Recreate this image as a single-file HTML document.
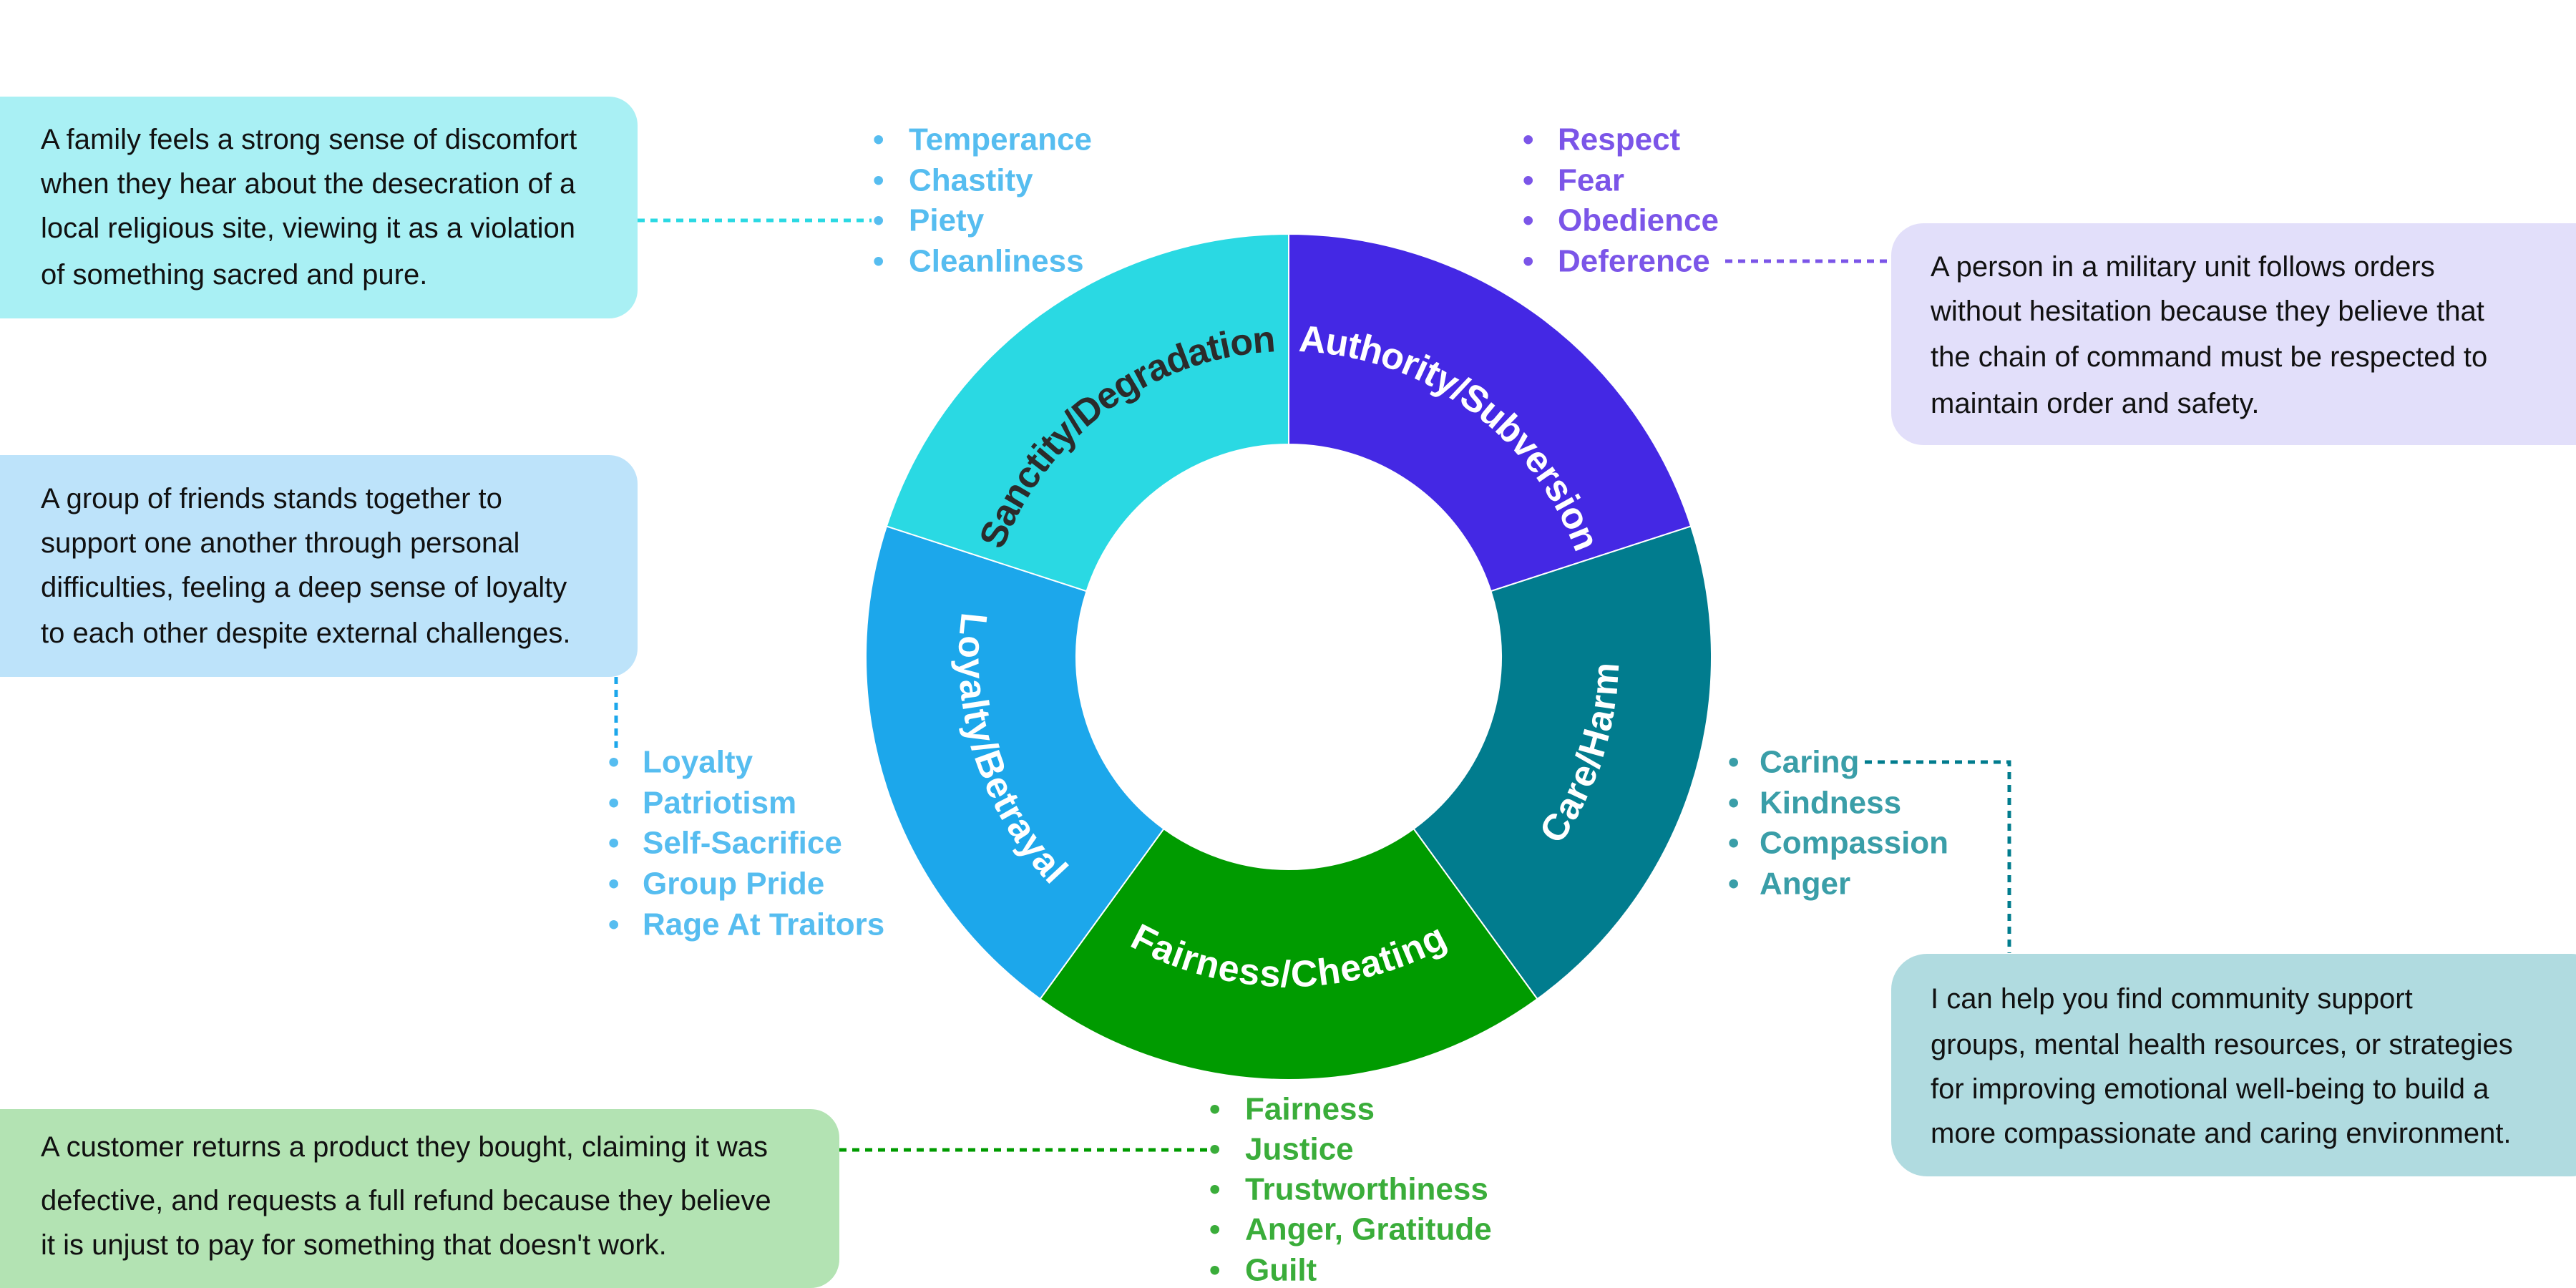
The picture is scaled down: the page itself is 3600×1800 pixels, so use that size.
<!DOCTYPE html>
<html><head><meta charset="utf-8"><style>
html,body{margin:0;padding:0;background:#fff;}
svg{display:block;}
.bx{font-family:"Liberation Sans",sans-serif;font-size:40px;fill:#111;}
.li{font-family:"Liberation Sans",sans-serif;font-size:44px;font-weight:bold;}
.lb{font-family:"Liberation Sans",sans-serif;font-size:52px;font-weight:bold;}
</style></head><body>
<svg width="3600" height="1800" viewBox="0 0 3600 1800" xmlns="http://www.w3.org/2000/svg">
<defs>
<path id="pS" d="M1359.4,964.4 A444,444 0 0 1 1981.6,512.4"/>
<path id="pA" d="M1620.4,512.4 A444,444 0 0 1 2242.6,964.4"/>
<path id="pC" d="M1893.3,1352.3 A444,444 0 0 0 2130.9,620.9"/>
<path id="pF" d="M1416.5,1140 A444,444 0 0 0 2185.5,1140"/>
<path id="pL" d="M1471.1,620.9 A444,444 0 0 0 1708.7,1352.3"/>
</defs>
<g stroke="#fff" stroke-width="2">
<path fill="#4428e4" d="M1801,327 A591,591 0 0 1 2363.1,735.4 L2083.5,826.2 A297,297 0 0 0 1801,621 Z"/>
<path fill="#017c8e" d="M2363.1,735.4 A591,591 0 0 1 2148.4,1396.1 L1975.6,1158.3 A297,297 0 0 0 2083.5,826.2 Z"/>
<path fill="#009b00" d="M2148.4,1396.1 A591,591 0 0 1 1453.6,1396.1 L1626.4,1158.3 A297,297 0 0 0 1975.6,1158.3 Z"/>
<path fill="#1ca7eb" d="M1453.6,1396.1 A591,591 0 0 1 1238.9,735.4 L1518.5,826.2 A297,297 0 0 0 1626.4,1158.3 Z"/>
<path fill="#2ad9e3" d="M1238.9,735.4 A591,591 0 0 1 1801,327 L1801,621 A297,297 0 0 0 1518.5,826.2 Z"/>
</g>
<g class="lb" text-anchor="middle" dominant-baseline="central">
<text fill="#2b2b2b"><textPath href="#pS" startOffset="50%">Sanctity/Degradation</textPath></text>
<text fill="#fff"><textPath href="#pA" startOffset="50%">Authority/Subversion</textPath></text>
<text fill="#fff"><textPath href="#pC" startOffset="50%">Care/Harm</textPath></text>
<text fill="#fff"><textPath href="#pF" startOffset="50%">Fairness/Cheating</textPath></text>
<text fill="#fff"><textPath href="#pL" startOffset="50%">Loyalty/Betrayal</textPath></text>
</g>

<g fill="none" stroke-width="5" stroke-dasharray="10 8">
<path stroke="#2ad9e3" d="M891,308 H1218"/>
<path stroke="#7b55e8" d="M2411,365 H2643"/>
<path stroke="#1ca7eb" d="M861,946 V1045"/>
<path stroke="#017c8e" d="M2606,1065 H2808 V1332"/>
<path stroke="#009b00" d="M1173,1607 H1688"/>
</g>

<rect x="-60" y="135" width="951" height="310" rx="40" fill="#a9f0f4"/>
<rect x="-60" y="636" width="951" height="310" rx="40" fill="#bde3fa"/>
<rect x="-60" y="1550" width="1233" height="250" rx="40" fill="#b3e3b3"/>
<rect x="2643" y="312" width="1000" height="310" rx="45" fill="#e2dffa"/>
<rect x="2643" y="1333" width="1000" height="311" rx="50" fill="#b0dbe0"/>

<g class="bx">
<text x="57" y="208">A family feels a strong sense of discomfort</text>
<text x="57" y="270">when they hear about the desecration of a</text>
<text x="57" y="332">local religious site, viewing it as a violation</text>
<text x="57" y="397">of something sacred and pure.</text>

<text x="57" y="710">A group of friends stands together to</text>
<text x="57" y="772">support one another through personal</text>
<text x="57" y="834">difficulties, feeling a deep sense of loyalty</text>
<text x="57" y="898">to each other despite external challenges.</text>

<text x="57" y="1616">A customer returns a product they bought, claiming it was</text>
<text x="57" y="1691">defective, and requests a full refund because they believe</text>
<text x="57" y="1753">it is unjust to pay for something that doesn't work.</text>

<text x="2698" y="386">A person in a military unit follows orders</text>
<text x="2698" y="448">without hesitation because they believe that</text>
<text x="2698" y="512">the chain of command must be respected to</text>
<text x="2698" y="577">maintain order and safety.</text>

<text x="2698" y="1409">I can help you find community support</text>
<text x="2698" y="1473">groups, mental health resources, or strategies</text>
<text x="2698" y="1535">for improving emotional well-being to build a</text>
<text x="2698" y="1597">more compassionate and caring environment.</text>
</g>

<g class="li" dominant-baseline="central">
<g fill="#56bdf0">
<text x="1220" y="195">•</text><text x="1270" y="195">Temperance</text>
<text x="1220" y="252">•</text><text x="1270" y="252">Chastity</text>
<text x="1220" y="308">•</text><text x="1270" y="308">Piety</text>
<text x="1220" y="365">•</text><text x="1270" y="365">Cleanliness</text>
</g>
<g fill="#7b55e8">
<text x="2128" y="195">•</text><text x="2177" y="195">Respect</text>
<text x="2128" y="252">•</text><text x="2177" y="252">Fear</text>
<text x="2128" y="308">•</text><text x="2177" y="308">Obedience</text>
<text x="2128" y="365">•</text><text x="2177" y="365">Deference</text>
</g>
<g fill="#3a9ea8">
<text x="2415" y="1065">•</text><text x="2459" y="1065">Caring</text>
<text x="2415" y="1122">•</text><text x="2459" y="1122">Kindness</text>
<text x="2415" y="1178">•</text><text x="2459" y="1178">Compassion</text>
<text x="2415" y="1235">•</text><text x="2459" y="1235">Anger</text>
</g>
<g fill="#3aad3a">
<text x="1690" y="1550">•</text><text x="1740" y="1550">Fairness</text>
<text x="1690" y="1606">•</text><text x="1740" y="1606">Justice</text>
<text x="1690" y="1662">•</text><text x="1740" y="1662">Trustworthiness</text>
<text x="1690" y="1718">•</text><text x="1740" y="1718">Anger, Gratitude</text>
<text x="1690" y="1775">•</text><text x="1740" y="1775">Guilt</text>
</g>
<g fill="#56bdf0">
<text x="850" y="1065">•</text><text x="898" y="1065">Loyalty</text>
<text x="850" y="1122">•</text><text x="898" y="1122">Patriotism</text>
<text x="850" y="1178">•</text><text x="898" y="1178">Self-Sacrifice</text>
<text x="850" y="1235">•</text><text x="898" y="1235">Group Pride</text>
<text x="850" y="1292">•</text><text x="898" y="1292">Rage At Traitors</text>
</g>
</g>
</svg>
</body></html>
